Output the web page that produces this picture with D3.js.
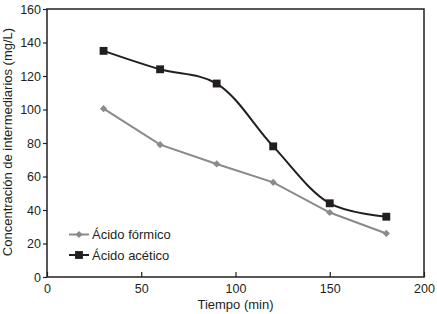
<!DOCTYPE html>
<html>
<head>
<meta charset="utf-8">
<script src="https://cdn.jsdelivr.net/npm/d3@7"></script>
<style>
  body { margin: 0; background: #fff; }
  text { font-family: "Liberation Sans", Arial, sans-serif; fill: #231f20; }
</style>
</head>
<body>
<div id="chart"></div>
<script>
// chart values
let tiempo = [30, 60, 90, 120, 150, 180];
let formico = [100.5, 79, 67.5, 56.5, 38.5, 26];
let acetico = [135, 124, 115.5, 78, 44, 36];
let xTicks = [0, 50, 100, 150, 200];
let yTicks = [0, 20, 40, 60, 80, 100, 120, 140, 160];

let margin = {top: 9, right: 13, bottom: 37, left: 47};
let width = 437 - margin.left - margin.right,
    height = 314 - margin.top - margin.bottom;

let svg = d3.select("#chart").append("svg")
    .attr("width", 437)
    .attr("height", 314)
    .append("g")
    .attr("transform", "translate(" + margin.left + "," + margin.top + ")");

let x = d3.scaleLinear().domain([0, 200]).range([0, width]);
let y = d3.scaleLinear().domain([0, 160]).range([height, 0]);

// frame
svg.append("rect")
    .attr("width", width)
    .attr("height", height)
    .attr("fill", "none")
    .attr("stroke", "#231f20")
    .attr("stroke-width", 1.5);

let yAxis = svg.append("g")
    .call(d3.axisLeft(y).tickValues(yTicks).tickSize(4).tickPadding(2));
let xAxis = svg.append("g")
    .attr("transform", "translate(0," + height + ")")
    .call(d3.axisBottom(x).tickValues(xTicks).tickSize(-5).tickPadding(7));

[yAxis, xAxis].forEach(function (a) {
    a.select(".domain").remove();
    a.selectAll("line").attr("stroke", "#231f20").attr("stroke-width", 1.2);
    a.selectAll("text").style("font-size", "12.5px")
        .style("font-family", "'Liberation Sans', Arial, sans-serif")
        .attr("fill", "#231f20");
});

svg.append("text")
    .attr("x", width / 2)
    .attr("y", height + 31.5)
    .attr("text-anchor", "middle")
    .style("font-size", "13px")
    .text("Tiempo (min)");

svg.append("text")
    .attr("transform", "rotate(-90)")
    .attr("x", -height / 2 + 1)
    .attr("y", -35.5)
    .attr("text-anchor", "middle")
    .style("font-size", "13px")
    .text("Concentración de intermediarios (mg/L)");

let series = [
    {name: "Ácido fórmico", values: formico, color: "#8a8a8a", rot: 45, size: 26, curve: d3.curveLinear},
    {name: "Ácido acético", values: acetico, color: "#231f20", rot: 0, size: 62, curve: d3.curveCatmullRom}
];

series.forEach(function (s, k) {
    let pts = tiempo.map((t, i) => ({t: t, v: s.values[i]}));
    let line = d3.line().curve(s.curve).x(d => x(d.t)).y(d => y(d.v));
    let marker = d3.symbol().type(d3.symbolSquare).size(s.size);

    svg.append("path")
        .datum(pts)
        .attr("d", line)
        .attr("fill", "none")
        .attr("stroke", s.color)
        .attr("stroke-width", 2);

    svg.selectAll(".m" + k)
        .data(pts)
        .enter().append("path")
        .attr("class", "m" + k)
        .attr("transform", d => "translate(" + x(d.t) + "," + y(d.v) + ") rotate(" + s.rot + ")")
        .attr("d", marker)
        .attr("fill", s.color);

    // legend
    let ly = 225.5 + k * 20.5;
    let lg = svg.append("g").attr("transform", "translate(22," + ly + ")");
    lg.append("line").attr("x1", 0).attr("x2", 20)
        .attr("stroke", s.color).attr("stroke-width", 2);
    lg.append("path").attr("transform", "translate(10,0) rotate(" + s.rot + ")")
        .attr("d", marker)
        .attr("fill", s.color);
    lg.append("text").attr("x", 23).attr("y", 4.5)
        .style("font-size", "13px")
        .text(s.name);
});
</script>
</body>
</html>
